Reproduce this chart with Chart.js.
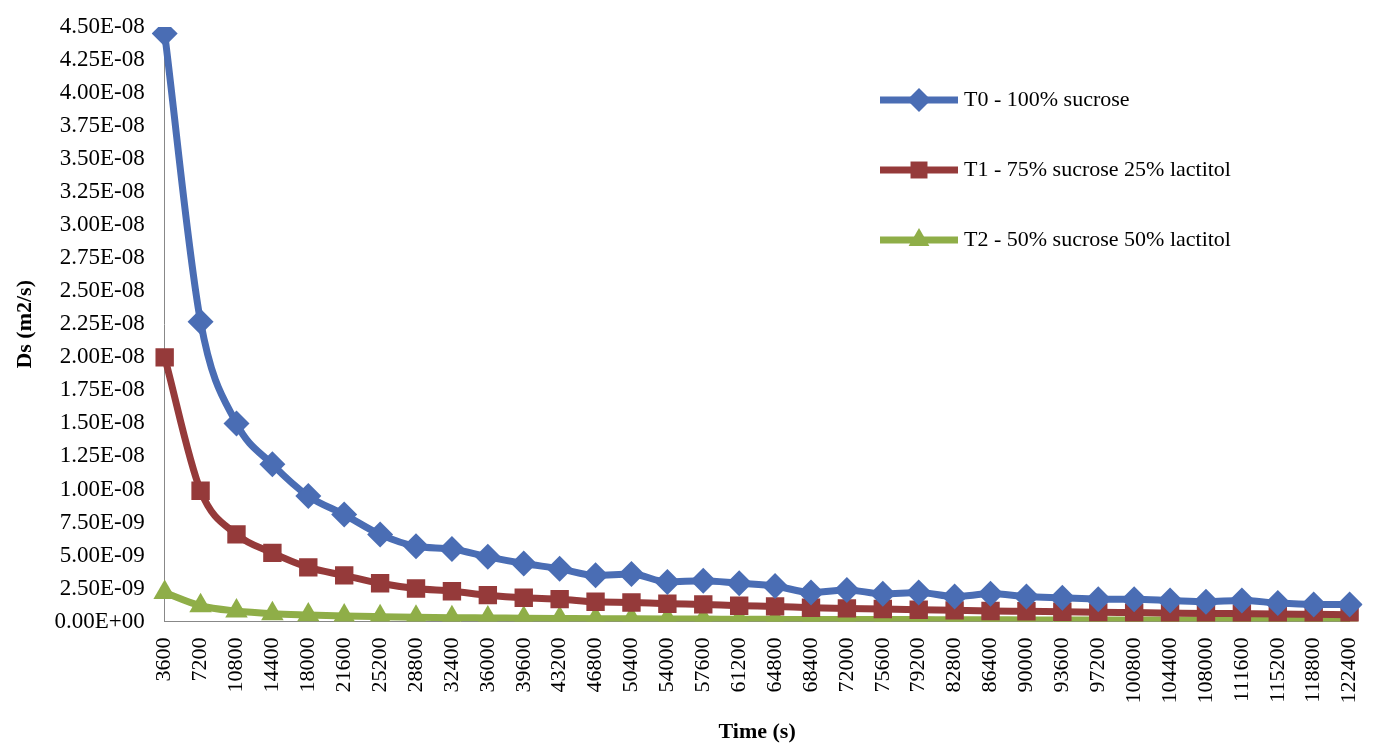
<!DOCTYPE html>
<html>
<head>
<meta charset="utf-8">
<script src="https://cdn.jsdelivr.net/npm/chart.js@4"></script>
<style>
  html, body { margin: 0; background: #fff; }
  #wrap { width: 1384px; height: 752px; }
</style>
</head>
<body>
<div id="wrap"><canvas id="chart"></canvas></div>
<script>
const times = [];
for (let t = 3600; t <= 122400; t += 3600) times.push(String(t));

const t0Values = [4.45e-8, 2.27e-8, 1.50e-8, 1.19e-8, 9.5e-9, 8.1e-9, 6.6e-9, 5.7e-9, 5.5e-9, 4.9e-9,
  4.4e-9, 4.0e-9, 3.5e-9, 3.6e-9, 3.0e-9, 3.1e-9, 2.9e-9, 2.7e-9, 2.2e-9, 2.4e-9,
  2.1e-9, 2.2e-9, 1.9e-9, 2.1e-9, 1.9e-9, 1.8e-9, 1.7e-9, 1.7e-9, 1.6e-9, 1.5e-9,
  1.6e-9, 1.4e-9, 1.3e-9, 1.3e-9];
const t1Values = [2.0e-8, 9.9e-9, 6.6e-9, 5.2e-9, 4.1e-9, 3.5e-9, 2.9e-9, 2.5e-9, 2.3e-9, 2.0e-9,
  1.8e-9, 1.7e-9, 1.5e-9, 1.45e-9, 1.35e-9, 1.3e-9, 1.2e-9, 1.15e-9, 1.05e-9, 1.0e-9,
  0.95e-9, 0.9e-9, 0.85e-9, 0.8e-9, 0.78e-9, 0.75e-9, 0.7e-9, 0.68e-9, 0.65e-9, 0.62e-9,
  0.6e-9, 0.58e-9, 0.55e-9, 0.52e-9];
const t2Values = [2.2e-9, 1.2e-9, 0.8e-9, 0.6e-9, 0.5e-9, 0.42e-9, 0.37e-9, 0.33e-9, 0.3e-9, 0.28e-9,
  0.26e-9, 0.24e-9, 0.22e-9, 0.21e-9, 0.2e-9, 0.19e-9, 0.18e-9, 0.17e-9, 0.16e-9, 0.16e-9,
  0.15e-9, 0.15e-9, 0.14e-9, 0.14e-9, 0.13e-9, 0.13e-9, 0.12e-9, 0.12e-9, 0.12e-9, 0.11e-9,
  0.11e-9, 0.11e-9, 0.1e-9, 0.1e-9];

const seriesLabels = ['T0 - 100% sucrose', 'T1 - 75% sucrose 25% lactitol', 'T2 - 50% sucrose 50% lactitol'];
const seriesColors = ['#4a6db4', '#953a3a', '#8fae48'];
const seriesPoints = ['rectRot', 'rect', 'triangle'];
const seriesValues = [t0Values, t1Values, t2Values];

function sciLabel(v) {
  if (Math.abs(v) < 1e-15) return '0.00E+00';
  const e = Math.floor(Math.log10(Math.abs(v)) + 1e-9);
  const m = v / Math.pow(10, e);
  const es = (e < 0 ? '-' : '+') + String(Math.abs(e)).padStart(2, '0');
  return m.toFixed(2) + 'E' + es;
}

const font = 'Liberation Serif';

const insideLegend = {
  id: 'insideLegend',
  afterDraw(chart) {
    const ctx = chart.ctx;
    ctx.save();
    chart.data.datasets.forEach((ds, i) => {
      const y = 100 + i * 70;
      const x0 = 880, x1 = 958;
      ctx.strokeStyle = ds.borderColor;
      ctx.lineWidth = 7;
      ctx.beginPath(); ctx.moveTo(x0, y); ctx.lineTo(x1, y); ctx.stroke();
      ctx.fillStyle = ds.borderColor;
      Chart.helpers.drawPoint(ctx, { pointStyle: ds.pointStyle, radius: 12, borderWidth: 0 }, (x0 + x1) / 2, y);
      ctx.fillStyle = '#000';
      ctx.font = '22px "' + font + '"';
      ctx.textBaseline = 'middle';
      ctx.fillText(ds.label, x1 + 6, y);
    });
    ctx.restore();
  }
};

new Chart(document.getElementById('chart'), {
  type: 'line',
  data: {
    labels: times,
    datasets: seriesValues.map((vals, i) => ({
      label: seriesLabels[i],
      data: vals,
      borderColor: seriesColors[i],
      backgroundColor: seriesColors[i],
      borderWidth: 7,
      pointStyle: seriesPoints[i],
      pointRadius: 13,
      pointBorderWidth: 0,
      cubicInterpolationMode: 'monotone'
    }))
  },
  options: {
    responsive: true,
    maintainAspectRatio: false,
    animation: false,
    layout: { padding: { top: 27, right: 14, left: 12, bottom: 6 } },
    plugins: { legend: { display: false }, tooltip: { enabled: false } },
    scales: {
      x: {
        offset: false,
        grid: { display: false },
        border: { color: '#888' },
        ticks: { color: '#000', font: { family: font, size: 22 }, minRotation: 90, maxRotation: 90, autoSkip: false, padding: 8 },
        title: { display: true, text: 'Time (s)', color: '#000', font: { family: font, size: 22, weight: 'bold' }, padding: { top: 8, bottom: 0 } }
      },
      y: {
        min: 0, max: 4.5e-8,
        grid: { display: false },
        border: { color: '#888' },
        ticks: { stepSize: 2.5e-9, color: '#000', font: { family: font, size: 23 }, callback: (v) => sciLabel(v), padding: 12 },
        title: { display: true, text: 'Ds (m2/s)', color: '#000', font: { family: font, size: 22, weight: 'bold' }, padding: { top: 0, bottom: 4 } }
      }
    }
  },
  plugins: [insideLegend]
});
</script>
</body>
</html>
